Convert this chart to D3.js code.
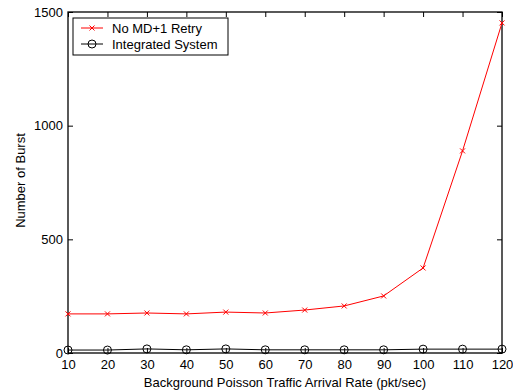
<!DOCTYPE html>
<html>
<head>
<meta charset="utf-8">
<script src="https://cdn.jsdelivr.net/npm/d3@7"></script>
<style>
  body { margin: 0; background: #fff; }
  text { font-family: "Liberation Sans", Arial, sans-serif; }
</style>
</head>
<body>
<div id="chart"></div>
<script>
// data
var rates = [10, 20, 30, 40, 50, 60, 70, 80, 90, 100, 110, 120];
var noRetry = [172, 172, 176, 172, 180, 176, 189, 207, 251, 374, 889, 1452];
var integrated = [13, 13, 18, 14, 18, 14, 14, 14, 14, 17, 17, 17];
var yTicks = [0, 500, 1000, 1500];
var seriesNames = ["No MD+1 Retry", "Integrated System"];

var svgWidth = 513, svgHeight = 392;
var margin = { top: 12, right: 11, bottom: 39, left: 68 };
var width = svgWidth - margin.left - margin.right;
var height = svgHeight - margin.top - margin.bottom;

var svg = d3.select("#chart").append("svg")
    .attr("width", svgWidth)
    .attr("height", svgHeight);

var g = svg.append("g")
    .attr("transform", `translate(${margin.left}, ${margin.top})`);

var x = d3.scaleLinear().domain([10, 120]).range([0, width]);
var y = d3.scaleLinear().domain([0, 1500]).range([height, 0]);

// axes (ticks point inward, matlab style box)
var bottomAxis = d3.axisBottom(x).tickValues(rates).tickFormat(d3.format("d")).tickSize(-5).tickPadding(7);
var leftAxis = d3.axisLeft(y).tickValues(yTicks).tickFormat(d3.format("d")).tickSize(-5).tickPadding(5);
var topAxis = d3.axisTop(x).tickValues(rates).tickSize(-5).tickFormat("");
var rightAxis = d3.axisRight(y).tickValues(yTicks).tickSize(-5).tickFormat("");

function styleAxis(sel) {
    sel.select(".domain").remove();
    sel.selectAll("line").attr("stroke", "#000");
    sel.selectAll("text").style("font-size", "13px").attr("fill", "#000")
        .style("font-family", "'Liberation Sans', Arial, sans-serif");
}

g.append("g").attr("transform", `translate(0, ${height})`).call(bottomAxis).call(styleAxis);
g.append("g").call(leftAxis).call(styleAxis);
g.append("g").call(topAxis).call(styleAxis);
g.append("g").attr("transform", `translate(${width}, 0)`).call(rightAxis).call(styleAxis);

g.append("rect")
    .attr("width", width).attr("height", height)
    .attr("fill", "none").attr("stroke", "#000").attr("stroke-width", 1.3);

var line = d3.line().x((d, i) => x(rates[i])).y(d => y(d));

// red series
g.append("path").datum(noRetry)
    .attr("d", line).attr("fill", "none").attr("stroke", "#ff0000").attr("stroke-width", 1);

g.selectAll(".xm").data(noRetry).enter().append("path")
    .attr("class", "xm")
    .attr("transform", (d, i) => `translate(${x(rates[i])}, ${y(d)})`)
    .attr("d", "M-2.5,-2.5L2.5,2.5M-2.5,2.5L2.5,-2.5")
    .attr("stroke", "#ff0000").attr("stroke-width", 1);

// black series
g.append("path").datum(integrated)
    .attr("d", line).attr("fill", "none").attr("stroke", "#000").attr("stroke-width", 1);

g.selectAll(".om").data(integrated).enter().append("circle")
    .attr("class", "om")
    .attr("cx", (d, i) => x(rates[i]))
    .attr("cy", d => y(d))
    .attr("r", 4)
    .attr("fill", "none").attr("stroke", "#000").attr("stroke-width", 1);

// legend
var legend = g.append("g").attr("transform", "translate(5, 6)");
legend.append("rect")
    .attr("width", 155).attr("height", 37)
    .attr("fill", "#fff").attr("stroke", "#000").attr("stroke-width", 1);

var rowY = [10, 26];
legend.append("line").attr("x1", 8).attr("x2", 30).attr("y1", rowY[0]).attr("y2", rowY[0])
    .attr("stroke", "#ff0000");
legend.append("path").attr("transform", `translate(19, ${rowY[0]})`)
    .attr("d", "M-2.5,-2.5L2.5,2.5M-2.5,2.5L2.5,-2.5").attr("stroke", "#ff0000");
legend.append("line").attr("x1", 8).attr("x2", 30).attr("y1", rowY[1]).attr("y2", rowY[1])
    .attr("stroke", "#000");
legend.append("circle").attr("cx", 19).attr("cy", rowY[1]).attr("r", 4)
    .attr("fill", "none").attr("stroke", "#000");

legend.selectAll(".lt").data(seriesNames).enter().append("text")
    .attr("class", "lt")
    .attr("x", 39).attr("y", (d, i) => rowY[i] + 4.5)
    .style("font-size", "13px")
    .text(d => d);

// axis labels
svg.append("text")
    .attr("x", margin.left + width / 2).attr("y", svgHeight - 5)
    .attr("text-anchor", "middle").style("font-size", "13px")
    .text("Background Poisson Traffic Arrival Rate (pkt/sec)");

svg.append("text")
    .attr("transform", "rotate(-90)")
    .attr("x", -(margin.top + height / 2) + 2).attr("y", 25)
    .attr("text-anchor", "middle").style("font-size", "13px")
    .text("Number of Burst");
</script>
</body>
</html>
